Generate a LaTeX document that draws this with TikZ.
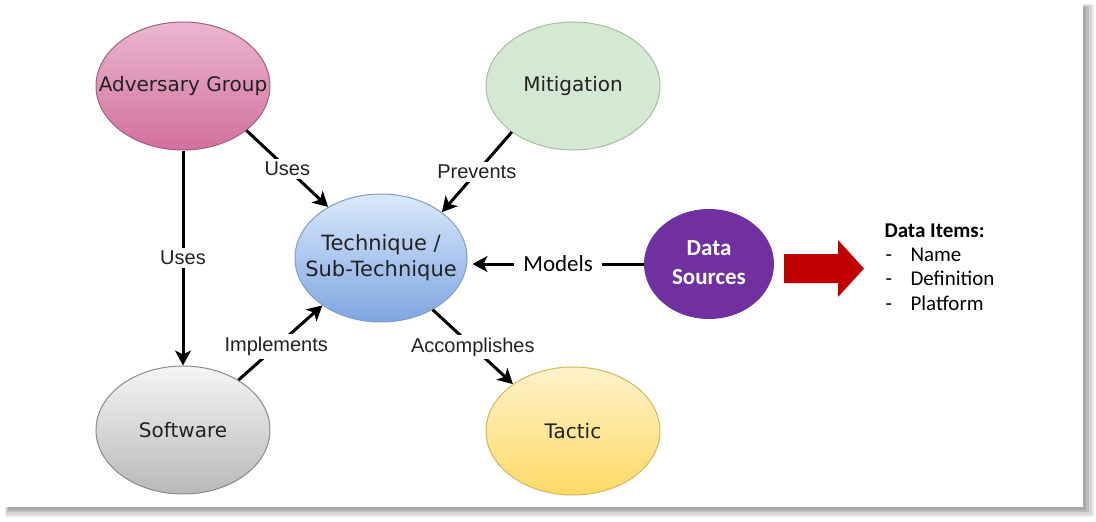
\documentclass[tikz,border=0pt]{standalone}
\usepackage{fontspec}
\setmainfont{DejaVu Sans}
\newfontfamily\lblfont{Liberation Sans}
\newfontfamily\calfont{Carlito}
\usetikzlibrary{shapes.geometric,arrows.meta}
\definecolor{advT}{HTML}{EAB6D0}
\definecolor{advB}{HTML}{D2709C}
\definecolor{advD}{HTML}{A0607F}
\definecolor{mitF}{HTML}{D5E8D4}
\definecolor{mitD}{HTML}{A3BFA0}
\definecolor{tecT}{HTML}{DAE8FC}
\definecolor{tecB}{HTML}{7EA6E0}
\definecolor{tecD}{HTML}{7F9CC8}
\definecolor{swT}{HTML}{F5F5F5}
\definecolor{swB}{HTML}{B8B8B8}
\definecolor{swD}{HTML}{8A8A8A}
\definecolor{tacT}{HTML}{FFF2CC}
\definecolor{tacB}{HTML}{FFD966}
\definecolor{tacD}{HTML}{D6B656}
\definecolor{dsF}{HTML}{7030A0}
\definecolor{redA}{HTML}{C00000}
\definecolor{txt}{HTML}{222222}
\newcommand{\zw}[1]{\makebox[0pt][c]{#1}}
\begin{document}
\begin{tikzpicture}[x=1pt,y=-1pt,
  ent/.style={ellipse, draw, line width=1pt, minimum width=174pt, minimum height=128pt,
    inner sep=0pt, text=txt, font=\fontsize{20}{26}\selectfont},
  rel/.style={line width=3pt, -{Stealth[length=15pt,width=16pt,inset=4pt]}},
  lbl/.style={fill=white, inner sep=3pt, text=txt, font=\lblfont\fontsize{20}{22}\selectfont},
  ditem/.style={anchor=base west, text=black, font=\calfont\fontsize{21}{24}\selectfont}
]
\useasboundingbox (0,0) rectangle (1096,522);
\fill[white] (0,0) rectangle (1096,522);
% frame shadow
\fill[black!8] (5,4) rectangle (1094,517);
\fill[black!16] (6,5) rectangle (1092,515);
\fill[black!26] (7,6) rectangle (1089,512);
\fill[black!34] (8,7) rectangle (1086,510);
\fill[white] (0,0) rectangle (1083,507);

% entities
\node[ent, top color=advT, bottom color=advB, draw=advD] (adv) at (183,86) {\zw{Adversary Group}};
\node[ent, fill=mitF, draw=mitD] (mit) at (573,86) {\zw{Mitigation}};
\node[ent, top color=tecT, bottom color=tecB, draw=tecD, minimum width=172pt,
  font=\fontsize{21}{26}\selectfont] (tech) at (381,258)
  {\zw{\begin{tabular}{@{}c@{}}Technique /\\Sub-Technique\end{tabular}}};
\node[ent, top color=swT, bottom color=swB, draw=swD] (sw) at (183,430) {\zw{Software}};
\node[ent, top color=tacT, bottom color=tacB, draw=tacD] (tac) at (573,431) {\zw{Tactic}};
\node[ellipse, fill=dsF, minimum width=130pt, minimum height=110pt, inner sep=0pt,
  text=white, font=\calfont\bfseries\fontsize{23}{29}\selectfont] (ds) at (709,264)
  {\zw{\begin{tabular}{@{}c@{}}Data\\Sources\end{tabular}}};

% relations
\draw[rel] (adv.south) -- node[lbl]{Uses} (sw.north);
\draw[rel] (adv.325) -- node[lbl]{Uses} (tech.136);
\draw[rel] (mit.217) -- node[lbl]{Prevents} (tech.37);
\draw[rel] (sw.42) -- node[lbl, pos=0.45]{Implements} (tech.219);
\draw[rel] (tech.315) -- node[lbl]{Accomplishes} (tac.142);
\draw[rel] (ds.west) -- node[lbl, inner xsep=9pt, text=black, font=\calfont\fontsize{23}{26}\selectfont]{Models} ([xshift=5pt]ds.west -| tech.east);

% red block arrow
\fill[redA] (784,254) -- (838,254) -- (838,240) -- (864,268.5) -- (838,297) -- (838,283) -- (784,283) -- cycle;

% data items
\node[ditem, font=\calfont\bfseries\fontsize{21}{24}\selectfont] (dih) at (881,237) {Data Items:};
\node[ditem] (dd1) at (882,261) {-};
\node[ditem] (di1) at (907,261) {Name};
\node[ditem] (dd2) at (882,285.5) {-};
\node[ditem] (di2) at (907,285.5) {Definition};
\node[ditem] (dd3) at (882,310) {-};
\node[ditem] (di3) at (907,310) {Platform};
\end{tikzpicture}
\end{document}
